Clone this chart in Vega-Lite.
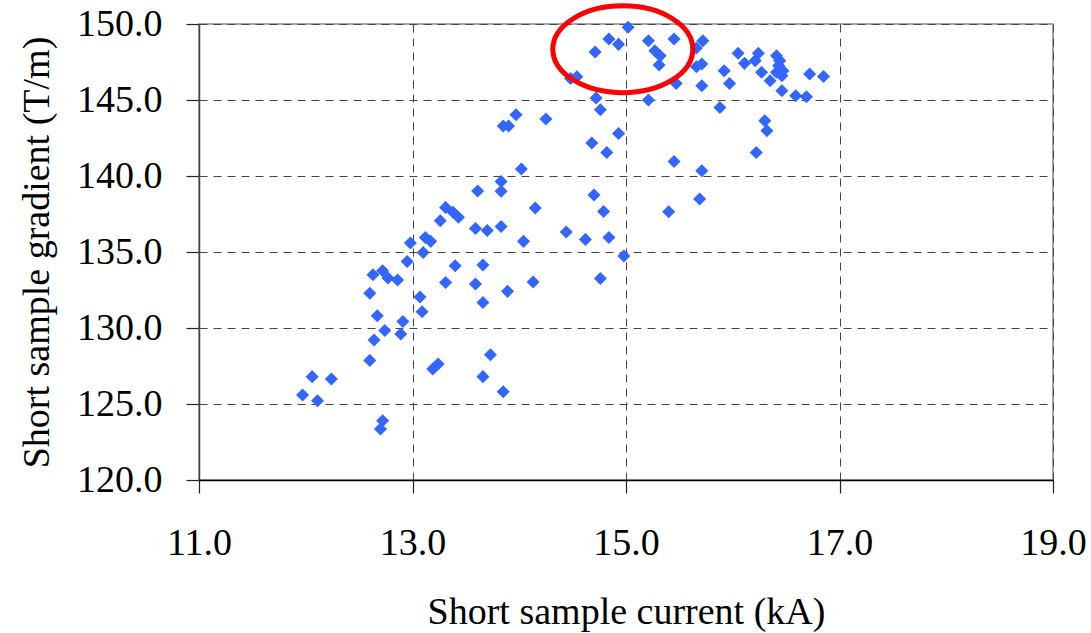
{
  "$schema": "https://vega.github.io/schema/vega-lite/v6.json",
  "width": 854,
  "height": 456,
  "autosize": {"type": "none"},
  "padding": {"left": 199, "top": 24, "right": 38, "bottom": 153},
  "background": "white",
  "config": {
    "view": {"stroke": "#888888", "strokeWidth": 1.5},
    "font": "Liberation Serif",
    "axis": {
      "labelFont": "Liberation Serif",
      "titleFont": "Liberation Serif",
      "labelFontSize": 38,
      "titleFontSize": 38,
      "titleFontWeight": "normal",
      "labelColor": "#000000",
      "titleColor": "#000000",
      "domainColor": "#222222",
      "domainWidth": 1.5,
      "tickColor": "#222222",
      "tickWidth": 1.2,
      "tickSize": 13,
      "grid": true,
      "gridColor": "#444444",
      "gridDash": [8, 6],
      "gridWidth": 1,
      "labelFlush": false,
      "labelOverlap": false
    }
  },
  "datasets": {
    "samples": [
      {"current": 13.31, "gradient": 137.93},
      {"current": 13.38, "gradient": 137.61},
      {"current": 13.43, "gradient": 137.28},
      {"current": 13.26, "gradient": 137.06},
      {"current": 12.98, "gradient": 135.59},
      {"current": 13.12, "gradient": 135.96},
      {"current": 13.17, "gradient": 135.70},
      {"current": 13.10, "gradient": 134.97},
      {"current": 12.95, "gradient": 134.38},
      {"current": 13.40, "gradient": 134.10},
      {"current": 13.31, "gradient": 133.00},
      {"current": 12.63, "gradient": 133.51},
      {"current": 12.72, "gradient": 133.77},
      {"current": 12.77, "gradient": 133.29},
      {"current": 12.86, "gradient": 133.16},
      {"current": 12.60, "gradient": 132.28},
      {"current": 13.07, "gradient": 132.04},
      {"current": 13.09, "gradient": 131.07},
      {"current": 12.67, "gradient": 130.81},
      {"current": 12.91, "gradient": 130.43},
      {"current": 12.74, "gradient": 129.84},
      {"current": 12.89, "gradient": 129.61},
      {"current": 12.64, "gradient": 129.21},
      {"current": 12.60, "gradient": 127.87},
      {"current": 13.19, "gradient": 127.30},
      {"current": 13.24, "gradient": 127.63},
      {"current": 12.06, "gradient": 126.80},
      {"current": 12.24, "gradient": 126.64},
      {"current": 11.97, "gradient": 125.59},
      {"current": 12.11, "gradient": 125.22},
      {"current": 12.72, "gradient": 123.90},
      {"current": 12.70, "gradient": 123.36},
      {"current": 14.72, "gradient": 145.13},
      {"current": 14.76, "gradient": 144.36},
      {"current": 13.97, "gradient": 144.03},
      {"current": 14.25, "gradient": 143.75},
      {"current": 13.85, "gradient": 143.29},
      {"current": 13.90, "gradient": 143.29},
      {"current": 14.93, "gradient": 142.80},
      {"current": 14.68, "gradient": 142.17},
      {"current": 14.82, "gradient": 141.55},
      {"current": 14.02, "gradient": 140.46},
      {"current": 13.83, "gradient": 139.64},
      {"current": 13.61, "gradient": 139.01},
      {"current": 13.83, "gradient": 138.99},
      {"current": 14.70, "gradient": 138.75},
      {"current": 14.79, "gradient": 137.67},
      {"current": 14.15, "gradient": 137.89},
      {"current": 13.59, "gradient": 136.55},
      {"current": 13.70, "gradient": 136.42},
      {"current": 13.83, "gradient": 136.68},
      {"current": 14.44, "gradient": 136.32},
      {"current": 14.62, "gradient": 135.83},
      {"current": 14.84, "gradient": 135.96},
      {"current": 14.04, "gradient": 135.70},
      {"current": 14.98, "gradient": 134.74},
      {"current": 13.66, "gradient": 134.14},
      {"current": 13.59, "gradient": 132.89},
      {"current": 14.13, "gradient": 133.03},
      {"current": 14.76, "gradient": 133.26},
      {"current": 13.89, "gradient": 132.41},
      {"current": 13.66, "gradient": 131.68},
      {"current": 13.73, "gradient": 128.24},
      {"current": 13.66, "gradient": 126.80},
      {"current": 13.85, "gradient": 125.81},
      {"current": 15.02, "gradient": 149.78},
      {"current": 14.84, "gradient": 149.01},
      {"current": 14.93, "gradient": 148.66},
      {"current": 14.71, "gradient": 148.16},
      {"current": 15.21, "gradient": 148.90},
      {"current": 15.45, "gradient": 149.01},
      {"current": 15.27, "gradient": 148.24},
      {"current": 15.32, "gradient": 147.91},
      {"current": 15.31, "gradient": 147.30},
      {"current": 15.72, "gradient": 148.90},
      {"current": 15.66, "gradient": 148.42},
      {"current": 15.66, "gradient": 147.19},
      {"current": 15.71, "gradient": 147.37},
      {"current": 14.48, "gradient": 146.42},
      {"current": 14.54, "gradient": 146.53},
      {"current": 15.47, "gradient": 146.09},
      {"current": 15.71, "gradient": 145.94},
      {"current": 15.21, "gradient": 145.00},
      {"current": 15.88, "gradient": 144.51},
      {"current": 15.45, "gradient": 140.96},
      {"current": 15.71, "gradient": 140.35},
      {"current": 16.05, "gradient": 148.07},
      {"current": 16.11, "gradient": 147.41},
      {"current": 15.92, "gradient": 146.93},
      {"current": 15.97, "gradient": 146.09},
      {"current": 16.24, "gradient": 148.07},
      {"current": 16.21, "gradient": 147.59},
      {"current": 16.27, "gradient": 146.82},
      {"current": 16.41, "gradient": 147.91},
      {"current": 16.44, "gradient": 147.59},
      {"current": 16.43, "gradient": 147.26},
      {"current": 16.47, "gradient": 146.93},
      {"current": 16.46, "gradient": 146.60},
      {"current": 16.41, "gradient": 146.82},
      {"current": 16.35, "gradient": 146.27},
      {"current": 16.46, "gradient": 145.61},
      {"current": 16.59, "gradient": 145.28},
      {"current": 16.69, "gradient": 145.22},
      {"current": 16.72, "gradient": 146.71},
      {"current": 16.85, "gradient": 146.55},
      {"current": 16.30, "gradient": 143.64},
      {"current": 16.32, "gradient": 142.98},
      {"current": 16.22, "gradient": 141.55},
      {"current": 15.40, "gradient": 137.65},
      {"current": 15.69, "gradient": 138.49}
    ],
    "highlight": [
      {"current": 14.97, "gradient": 148.34}
    ]
  },
  "encoding": {
    "x": {
      "field": "current",
      "type": "quantitative",
      "scale": {"domain": [11, 19], "nice": false, "zero": false},
      "axis": {
        "title": "Short sample current (kA)",
        "values": [11, 13, 15, 17, 19],
        "format": ".1f",
        "labelPadding": 31,
        "titlePadding": 31,
        "domainColor": "#000000"
      }
    },
    "y": {
      "field": "gradient",
      "type": "quantitative",
      "scale": {"domain": [120, 150], "nice": false, "zero": false},
      "axis": {
        "title": "Short sample gradient (T/m)",
        "values": [120, 125, 130, 135, 140, 145, 150],
        "format": ".1f",
        "labelPadding": 24,
        "titlePadding": 20,
        "domainColor": "#444444"
      }
    }
  },
  "layer": [
    {
      "data": {"name": "samples"},
      "mark": {"type": "point", "shape": "diamond", "filled": true, "size": 170, "color": "#3366FF", "opacity": 1}
    },
    {
      "data": {"name": "highlight"},
      "mark": {
        "type": "point",
        "shape": "M -1 0 A 1 0.62 0 1 1 1 0 A 1 0.62 0 1 1 -1 0 Z",
        "filled": false,
        "stroke": "#FF0000",
        "strokeWidth": 5,
        "size": 19600,
        "opacity": 1
      }
    }
  ]
}
